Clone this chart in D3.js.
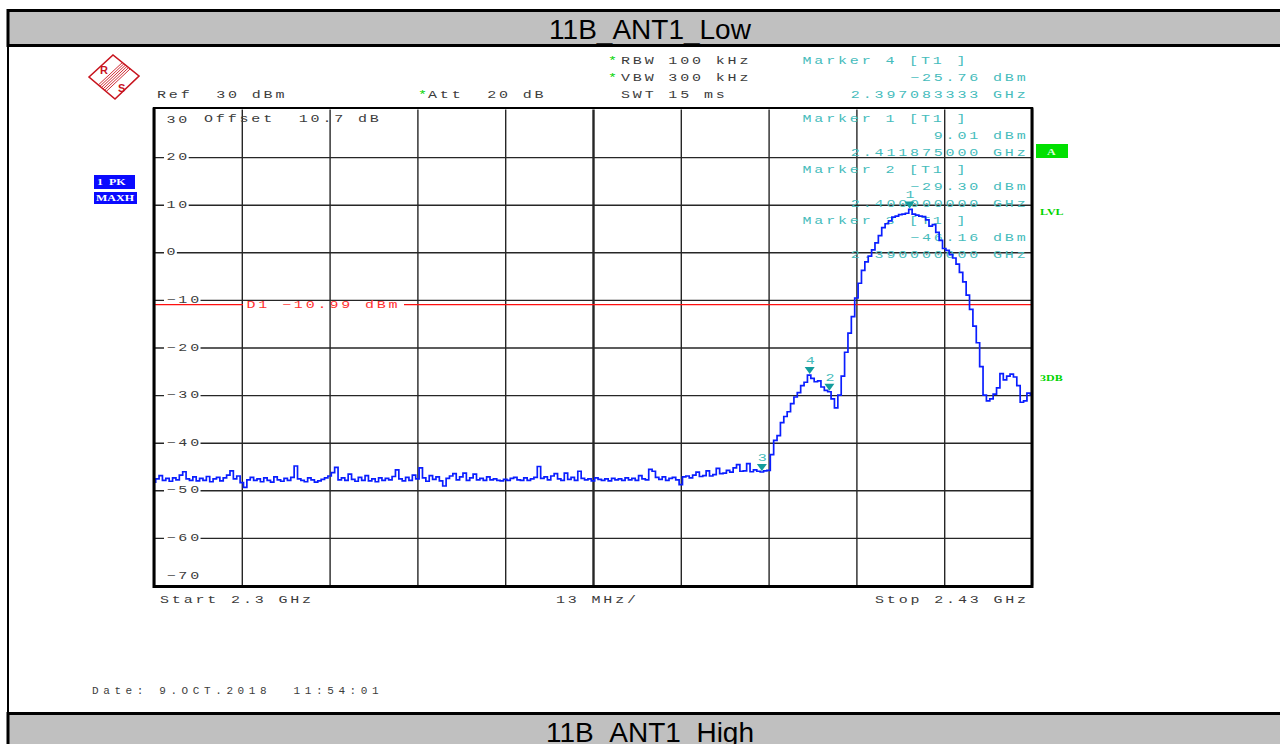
<!DOCTYPE html>
<html>
<head>
<meta charset="utf-8">
<script src="https://cdn.jsdelivr.net/npm/d3@7"></script>
<style>
  body { margin: 0; background: #fff; }
  svg { display: block; }
  text { white-space: pre; }
</style>
</head>
<body>
<svg id="chart"></svg>
<script>
//Chart Data
const titleTop = "11B_ANT1_Low";
const titleBottom = "11B_ANT1_High";
const startGHz = 2.3;
const stopGHz = 2.43;
const sweepStepMHz = 0.5;
const refLevel = 30;
const bottomLevel = -70;
const levelTicks = [30, 20, 10, 0, -10, -20, -30, -40, -50, -60, -70];
const freqGridGHz = [2.3, 2.313, 2.326, 2.339, 2.352, 2.365, 2.378, 2.391, 2.404, 2.417, 2.43];

//Max hold trace, one value every 0.5 MHz from 2.3 GHz
const traceLevels = [
  -48.3, -47.6, -46.9, -47.9, -47.5, -48.1, -47.4, -47.8, -46.8, -46.1,
  -47.6, -47.9, -47.2, -48.0, -47.5, -47.9, -47.1, -48.2, -47.6, -47.3,
  -48.0, -47.4, -46.8, -45.9, -47.6, -47.0, -48.4, -49.4, -47.8, -47.3,
  -47.9, -47.6, -48.2, -47.4, -47.9, -48.3, -47.2, -47.8, -48.1, -47.5,
  -47.9, -47.3, -44.9, -47.6, -47.9, -48.2, -47.4, -47.8, -48.3, -48.0,
  -47.7, -47.4, -47.0, -46.3, -45.2, -47.8, -47.4, -47.9, -46.6, -47.7,
  -48.1, -47.3, -47.9, -46.9, -48.0, -47.6, -48.2, -47.4, -47.9, -47.5,
  -47.8, -47.1, -45.7, -47.6, -48.0, -47.3, -47.9, -46.8, -47.6, -45.3,
  -47.4, -48.1, -46.9, -47.7, -47.2, -48.0, -49.1, -47.5, -47.0, -46.5,
  -47.8, -47.2, -46.4, -47.9, -47.4, -46.6, -47.8, -47.5, -47.9, -47.2,
  -47.8, -47.6, -47.9, -48.0, -47.7, -47.9, -47.5, -47.3, -47.8, -47.9,
  -47.4, -47.9, -47.6, -47.3, -45.0, -47.5, -47.2, -47.8, -47.0, -46.5,
  -47.6, -47.9, -46.4, -47.7, -47.3, -47.9, -46.0, -47.5, -47.8, -47.6,
  -48.0, -47.4, -47.7, -47.9, -47.6, -48.0, -47.5, -47.8, -47.6, -47.9,
  -47.4, -47.8, -47.5, -47.9, -46.9, -47.6, -47.8, -45.6, -46.0, -47.3,
  -47.7, -47.2, -47.9, -47.5, -47.3, -47.8, -48.8, -47.2, -47.0, -47.4,
  -46.8, -46.2, -47.1, -46.9, -45.9, -47.0, -46.7, -45.4, -46.5, -46.4,
  -45.8, -46.2, -45.3, -44.6, -46.0, -45.9, -44.4, -46.1, -45.7, -46.0,
  -46.16, -45.9, -45.8, -42.5, -39.5, -38.5, -35.8, -34.5, -33.5, -31.8,
  -30.4, -29.5, -28.0, -27.3, -25.8, -26.5, -27.2, -27.0, -28.3, -29.0,
  -29.3, -30.8, -32.7, -30.0, -26.0, -21.0, -17.0, -13.5, -9.6, -6.5,
  -3.8, -2.0, -0.8, 0.5, 2.0, 3.5, 5.2, 6.0, 6.6, 7.4,
  7.6, 7.9, 8.0, 8.2, 9.01, 8.0, 7.8, 7.6, 7.5, 6.8,
  5.5, 5.8, 4.2, 2.5, 0.8, 0.4, -0.5, -1.2, -2.5, -4.2,
  -6.2, -9.0, -12.0, -15.5, -19.0, -24.0, -30.0, -31.2, -30.8, -29.8,
  -28.5, -25.5, -26.8, -26.0, -25.6, -26.2, -28.0, -31.5, -31.2, -29.6,
  -30.0
];

const markerIds = [1, 2, 3, 4];
const markerFreqsGHz = [2.411875, 2.4, 2.39, 2.397083333];
const markerLevels = [9.01, -29.30, -46.16, -25.76];
const markerReadoutOrder = [4, 1, 2, 3];
const displayLineLevel = -10.99;

const settingLines = [
  ["Ref  30 dBm", "Att  20 dB"],
  ["RBW 100 kHz", "VBW 300 kHz", "SWT 15 ms"]
];
const offsetText = "Offset  10.7 dB";
const dateText = "Date: 9.OCT.2018  11:54:01";

//Layout
const w = 1280;
const h = 744;
const plotLeft = 154;
const plotRight = 1032;
const plotTop = 109.5;
const plotBottom = 585.5;

const textGray = "#3c3c3c";
const teal = "#46bcbc";
const tealDark = "#139c9c";
const green = "#00d400";
const monoFont = "'Liberation Mono', 'DejaVu Sans Mono', monospace";
const stretch = 1.5;

const svg = d3.select("#chart").attr("width", w).attr("height", h);

//stretched analyzer-style text
function rsText(g, x, y, str, color, anchor){
  const t = g.append("text")
    .attr("transform", "translate(" + x + "," + y + ") scale(" + stretch + ",1)")
    .attr("text-anchor", anchor || "start")
    .attr("fill", color || textGray)
    .style("font-family", monoFont)
    .style("font-size", "10px")
    .style("letter-spacing", "1.9px")
    .text(str);
  return t;
};

//Page frame + title bars
svg.append("line")
   .attr("x1", 8).attr("x2", 8).attr("y1", 10).attr("y2", h)
   .attr("stroke", "#000").attr("stroke-width", 2);

svg.append("rect")
   .attr("x", 8).attr("y", 10.5).attr("width", 1300).attr("height", 35)
   .attr("fill", "#c0c0c0").attr("stroke", "#000").attr("stroke-width", 3);

svg.append("text")
   .attr("x", 650).attr("y", 38.5)
   .attr("text-anchor", "middle")
   .style("font-family", "'Liberation Sans', Arial, sans-serif")
   .style("font-size", "28px")
   .attr("fill", "#000")
   .text(titleTop);

svg.append("rect")
   .attr("x", 8).attr("y", 713.5).attr("width", 1300).attr("height", 60)
   .attr("fill", "#c0c0c0").attr("stroke", "#000").attr("stroke-width", 3);

svg.append("text")
   .attr("x", 650).attr("y", 742)
   .attr("text-anchor", "middle")
   .style("font-family", "'Liberation Sans', Arial, sans-serif")
   .style("font-size", "28px")
   .attr("fill", "#000")
   .text(titleBottom);

//R&S logo
const logo = svg.append("g").attr("fill", "none").attr("stroke", "#c8141e");
logo.append("polygon")
    .attr("points", "89,77 113,55 139,76 115,99")
    .attr("stroke-width", 1.6);
[0.36, 0.42, 0.48, 0.54, 0.6, 0.66].forEach(t => {
  logo.append("line")
      .attr("x1", 113 + 26 * t).attr("y1", 55 + 21 * t)
      .attr("x2", 89 + 26 * t).attr("y2", 77 + 22 * t)
      .attr("stroke-width", 0.9);
});
svg.append("text").attr("x", 100).attr("y", 74).attr("fill", "#c8141e")
   .style("font-family", "'Liberation Sans', sans-serif").style("font-weight", "bold").style("font-size", "11px").text("R");
svg.append("text").attr("x", 118).attr("y", 92).attr("fill", "#c8141e")
   .style("font-family", "'Liberation Sans', sans-serif").style("font-weight", "bold").style("font-size", "11px").text("S");

//Scale Setup
const xScale = d3.scaleLinear().domain([startGHz, stopGHz]).range([plotLeft, plotRight]);
const yScale = d3.scaleLinear().domain([bottomLevel, refLevel]).range([plotBottom, plotTop]);
const fmtLevel = d3.format(".2f");
const fmtTick = d3.format("d");

//Instrument settings
const settings = svg.append("g");
rsText(settings, 157, 98, settingLines[0][0]);
rsText(settings, 418, 98, "*", green);
rsText(settings, 428, 98, settingLines[0][1]);
rsText(settings, 608, 64, "*", green);
rsText(settings, 621, 64, settingLines[1][0]);
rsText(settings, 608, 81, "*", green);
rsText(settings, 621, 81, settingLines[1][1]);
rsText(settings, 621, 98, settingLines[1][2]);

//Grid
const gridV = d3.axisBottom(xScale).tickValues(freqGridGHz).tickSize(-(plotBottom - plotTop)).tickFormat("");
const gridH = d3.axisLeft(yScale).tickValues(levelTicks.slice(1, -1)).tickSize(-(plotRight - plotLeft)).tickFormat("");

const gv = svg.append("g").attr("transform", "translate(0," + plotBottom + ")").call(gridV);
const gh = svg.append("g").attr("transform", "translate(" + plotLeft + ",0)").call(gridH);
[gv, gh].forEach(g => {
  g.select(".domain").remove();
  g.selectAll(".tick line").attr("stroke", "#262626").attr("stroke-width", 1.4);
});
gv.selectAll(".tick line").attr("stroke-width", (d, i) => i === 5 ? 2.4 : 1.4);

//Level labels inside the frame
const labels = svg.append("g");
levelTicks.forEach((lv, i) => {
  let ly = yScale(lv) + 3;
  if (i === 0) ly = yScale(lv) + 13;
  if (i === levelTicks.length - 1) ly = yScale(lv) - 7;
  const bg = labels.append("rect").attr("fill", "#fff");
  const t = rsText(labels, 166.5, ly, fmtTick(lv));
  const bb = t.node().getBBox();
  bg.attr("x", 164).attr("y", ly - 8).attr("width", bb.width * stretch + 1).attr("height", 11);
});

//Offset text
rsText(svg, 204, 121.5, offsetText);

//Display line D1
svg.append("line")
   .attr("x1", plotLeft).attr("x2", 243)
   .attr("y1", yScale(displayLineLevel)).attr("y2", yScale(displayLineLevel))
   .attr("stroke", "#ff1010").attr("stroke-width", 1.3);
svg.append("line")
   .attr("x1", 404).attr("x2", plotRight)
   .attr("y1", yScale(displayLineLevel)).attr("y2", yScale(displayLineLevel))
   .attr("stroke", "#ff1010").attr("stroke-width", 1.3);
rsText(svg, 246.5, yScale(displayLineLevel) + 3.5, "D1 " + fmtLevel(displayLineLevel) + " dBm", "#ff3030");

//Marker readouts
const readoutRows = [[64, 81, 98], [121.5, 138.5, 155.5], [172.5, 189.5, 206.5], [223.5, 240.5, 257.5]];
markerReadoutOrder.forEach((id, r) => {
  const k = markerIds.indexOf(id);
  const rows = readoutRows[r];
  rsText(svg, 802.5, rows[0], "Marker " + id + " [T1 ]", teal);
  rsText(svg, 1028.5, rows[1], fmtLevel(markerLevels[k]) + " dBm", teal, "end");
  rsText(svg, 1028.5, rows[2], markerFreqsGHz[k].toFixed(9) + " GHz", teal, "end");
});

//Trace
const traceData = traceLevels.map((v, i) => ({ f: startGHz + i * sweepStepMHz / 1000, v: v }));
svg.append("clipPath").attr("id", "plotClip")
   .append("rect").attr("x", plotLeft).attr("y", plotTop - 2)
   .attr("width", plotRight - plotLeft).attr("height", plotBottom - plotTop + 2);

const traceLine = d3.line()
  .x(d => xScale(d.f))
  .y(d => yScale(d.v))
  .curve(d3.curveStep);

svg.append("path")
   .datum(traceData)
   .attr("clip-path", "url(#plotClip)")
   .attr("fill", "none")
   .attr("stroke", "#0a1eff")
   .attr("stroke-width", 1.7)
   .attr("d", traceLine);

//Markers
markerIds.forEach((id, k) => {
  const mx = xScale(markerFreqsGHz[k]);
  const my = yScale(markerLevels[k]);
  svg.append("path")
     .attr("d", "M" + (mx - 5) + "," + (my - 8) + "L" + (mx + 5) + "," + (my - 8) + "L" + mx + "," + (my - 1) + "Z")
     .attr("fill", tealDark);
  rsText(svg, mx - 4, my - 11, String(id), teal);
});

//Frame
svg.append("line").attr("x1", plotLeft - 1).attr("x2", plotRight + 1).attr("y1", plotTop - 1.5).attr("y2", plotTop - 1.5)
   .attr("stroke", "#000").attr("stroke-width", 2);
svg.append("path")
   .attr("d", "M" + plotLeft + "," + (plotTop - 2) + "V" + (plotBottom + 1) + "H" + plotRight + "V" + (plotTop - 2))
   .attr("fill", "none").attr("stroke", "#000").attr("stroke-width", 3);

//Side annotations
svg.append("rect").attr("x", 94).attr("y", 175).attr("width", 41).attr("height", 14).attr("fill", "#0a0aff");
svg.append("rect").attr("x", 94).attr("y", 192).attr("width", 43).attr("height", 12).attr("fill", "#0a0aff");
function badgeText(x, y, str, color){
  svg.append("text")
     .attr("transform", "translate(" + x + "," + y + ") scale(1.5,1)")
     .attr("fill", color)
     .style("font-family", "'Liberation Serif', serif")
     .style("font-weight", "bold")
     .style("font-size", "8px")
     .text(str);
};
badgeText(97, 185, "1  PK", "#fff");
badgeText(96, 201, "MAXH", "#fff");

svg.append("rect").attr("x", 1036).attr("y", 144).attr("width", 32).attr("height", 14).attr("fill", "#00e000");
badgeText(1047, 155, "A", "#d8ffd8");
badgeText(1040, 215, "LVL", green);
badgeText(1040, 381, "3DB", green);

//Bottom axis text
const spanPerDivMHz = Math.round((stopGHz - startGHz) * 1000 / 10);
rsText(svg, 160, 603, "Start " + startGHz + " GHz");
rsText(svg, 556, 603, spanPerDivMHz + " MHz/");
rsText(svg, 875, 603, "Stop " + stopGHz + " GHz");

//Date
svg.append("text")
   .attr("x", 92).attr("y", 694)
   .attr("fill", textGray)
   .style("font-family", monoFont)
   .style("font-size", "11px")
   .style("letter-spacing", "4.6px")
   .text(dateText);
</script>
</body>
</html>
